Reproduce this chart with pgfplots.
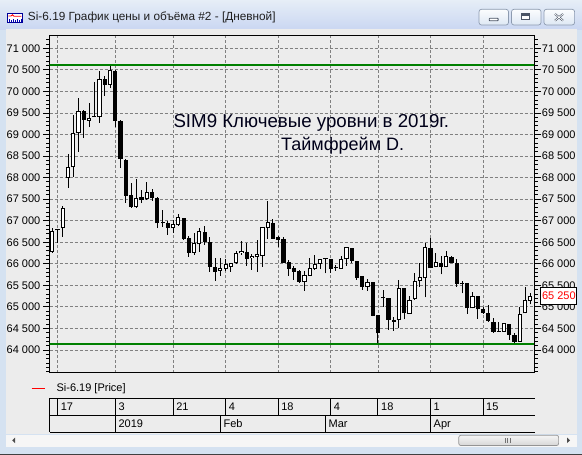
\documentclass[border=0pt]{standalone}
\usepackage{pgfplots}
\pgfplotsset{compat=1.18}
\usepackage{pgfplotstable}
\usepackage{fontspec}
\setmainfont{Liberation Sans}

\definecolor{frame}{HTML}{D5E2F1}
\definecolor{client}{HTML}{ECECEC}
\definecolor{gridgray}{HTML}{808080}
\definecolor{lvlgreen}{HTML}{008000}
\definecolor{btnedge}{HTML}{8D9BB0}
\definecolor{icon}{HTML}{4B5566}

\newcommand{\tfont}{\fontsize{11bp}{13bp}\selectfont}

% daily candles: index, open, high, low, close
\pgfplotstableread{
i O H L C
1 66282 66825 66258 66769
2 66775 66805 66477 66800
3 66825 67342 66630 67289
4 67985 68542 67767 68240
5 68240 69454 68022 69044
6 69030 69842 68603 69554
7 69554 69570 68913 69338
8 69315 69740 69169 69378
9 69420 70227 69400 69400
10 69401 70483 69276 70283
11 70283 70367 69902 70151
12 70151 70599 70074 70499
13 70476 70499 69183 69322
14 69322 69330 68217 68426
15 68410 68425 67419 67581
16 67598 67869 67300 67312
17 67312 67969 67300 67521
18 67544 67714 67405 67482
19 67498 67892 67490 67660
20 67660 67730 67465 67521
21 67535 67550 66825 66940
22 66950 67249 66848 66940
23 66940 67001 66669 66825
24 66825 67017 66723 66918
25 66901 67157 66878 67080
26 67057 67070 66553 66576
27 66593 66646 66166 66258
28 66258 66709 66205 66490
29 66453 66839 66282 66762
30 66732 66878 66437 66500
31 66500 66630 65817 65934
32 65934 66128 65608 65817
33 65841 66128 65718 65896
34 65880 66105 65834 65996
35 65934 66027 65817 66012
36 66012 66298 66000 66258
37 66244 66530 66205 66298
38 66282 66490 65950 66112
39 66128 66228 65857 66182
40 66166 66553 65817 66228
41 66189 66848 65934 66848
42 66839 67458 66583 66971
43 66955 67041 66576 66576
44 66623 66646 66384 66560
45 66569 66630 66026 66026
46 66049 66089 65725 65880
47 65910 65950 65625 65817
48 65841 65857 65562 65585
49 65585 65841 65376 65741
50 65725 66128 65725 65896
51 65880 66205 65857 65989
52 65996 66105 65880 66105
53 66105 66110 65780 66100
54 66105 66105 65794 65880
55 65905 65973 65834 65896
56 65880 66182 65880 66105
57 66105 66398 65950 66384
58 66367 66367 66026 66073
59 66066 66066 65625 65678
60 65718 65718 65393 65469
61 65469 65648 65376 65571
62 65571 65580 64780 64796
63 64812 64812 64155 64387
64 65223 65393 65005 65200
65 65200 65200 64464 64696
66 64696 64759 64448 64657
67 64696 65625 64504 65432
68 65432 65432 64712 64852
69 64836 65253 64836 65161
70 65177 65780 65161 65601
71 65601 66026 65469 65687
72 65664 66490 65223 66384
73 66360 66593 65896 65896
74 65934 66258 65919 66049
75 66012 66182 65757 65934
76 65919 66298 65919 66189
77 66166 66182 66012 66026
78 66012 66105 65469 65532
79 65540 65601 65316 65520
80 65548 65548 64836 64968
81 64968 65353 64968 65253
82 65253 65253 64720 64945
83 64945 65005 64836 64866
84 64866 65044 64657 64680
85 64657 64735 64402 64425
86 64440 64657 64425 64425
87 64425 64630 64420 64620
88 64596 64600 64232 64348
89 64348 64402 64155 64193
90 64193 65005 64193 64829
91 64852 65455 64852 65161
92 65145 65330 65061 65253
}\candles

\pgfplotsset{
  chartbox/.style={
    at={(49.7bp,-372.7bp)}, anchor=south west,
    scale only axis, width=484.8bp, height=336.7bp,
    xmin=0.505, xmax=92.8, ymin=63473, ymax=71285,
    ytick={64000,64500,...,71000}, minor ytick={63500,63600,...,71200},
    tick align=outside, major tick length=6.7bp, minor tick length=3.3bp,
    every tick/.style={black, line width=0.8bp},
    scaled y ticks=false,
    y tick label style={font=\tfont, inner sep=0.5bp},
    /pgf/number format/fixed, /pgf/number format/precision=0,
    /pgf/number format/1000 sep={\ }, /pgf/number format/assume math mode=true,
  },
  candle/.style={draw=none, mark=none, no markers, forget plot,
    error bars/y dir=plus, error bars/y explicit, error bars/error mark=none},
}

\begin{document}
\begin{tikzpicture}
\begin{scope}[x=1bp, y=-1bp]
\useasboundingbox (0,0) rectangle (582,455);
% window chrome
\fill[frame] (0,0) rectangle (582,455);
\shade[top color=white!40!frame, bottom color=frame!95!blue] (0,0) rectangle (582,29.3);
\fill[client] (6,29.3) rectangle (577,434);
% title icon
\fill[white, draw=blue!60!black, line width=0.6bp] (7.6,13.6) rectangle (22.2,22.6);
\draw[red, line width=0.9bp] (8.4,16) -- (11,16) -- (12.5,14.8) -- (14,16.3) -- (21.4,16.3);
\foreach \bx/\bh in {9/2.5,11/1.6,13/3,15/2,17/3.2,19/1.8,21/2.6}
  \fill[blue!70!black] (\bx-0.5,22) rectangle (\bx+0.5,22-\bh);
\node[anchor=base west, inner sep=0, font=\fontsize{11.8bp}{13bp}\selectfont, text=black!88]
  at (27.8,21) {Si-6.19 График цены и объёма \#2 - [Дневной]};
% caption buttons
\foreach \xa/\xb in {479/508.5, 511.5/541, 544/574.6}
  \shade[top color=white!92!frame, bottom color=frame!80!white, draw=btnedge,
         rounded corners=2.5bp, line width=0.7bp] (\xa,9.3) rectangle (\xb,25);
\draw[icon, fill=white, line width=0.8bp, rounded corners=0.6bp] (489.2,18.3) rectangle (498.1,20.8);
\draw[icon, fill=white, line width=0.8bp] (521.8,13.6) rectangle (529.8,19.4);
\draw[icon, line width=1.6bp] (522.3,14.8) -- (529.3,14.8);
\draw[icon, line width=1.9bp] (555,14) -- (563,20.6) (563,14) -- (555,20.6);
\draw[white, line width=0.7bp] (555,14) -- (563,20.6) (563,14) -- (555,20.6);
\end{scope}

% price chart
\begin{axis}[chartbox,
  axis line style={black, line width=1bp},
  xtick={2,13,24,34,44,54,63,73,83}, xticklabels={}, xtick style={draw=none},
  xmajorgrids, ymajorgrids, ytick pos=left,
  y tick label style={xshift=-2bp},
  grid style={gridgray, dash pattern=on 3bp off 2bp, line width=0.8bp},
]
  \addplot[lvlgreen, line width=2bp, forget plot] coordinates {(0,70620) (94,70620)};
  \addplot[lvlgreen, line width=2bp, forget plot] coordinates {(0,64146) (94,64146)};
  % wicks
  \addplot[candle, error bars/error bar style={draw=black, line width=1bp}]
    table[x=i, y=L, y error expr={\thisrow{H}-\thisrow{L}}] {\candles};
  % bodies
  \addplot[candle, error bars/error bar style={draw=black, line width=4.2bp}]
    table[x=i, y expr={min(\thisrow{O},\thisrow{C})},
          y error expr={max(abs(\thisrow{C}-\thisrow{O}),23)}] {\candles};
  % hollow inside of rising candles
  \addplot[candle, error bars/error bar style={draw=white, line width=2.2bp}]
    table[x=i, y expr={min(\thisrow{O},\thisrow{C})+23},
          y error expr={(\thisrow{C}>\thisrow{O}) ? max(\thisrow{C}-\thisrow{O}-46,0) : 0}] {\candles};
\end{axis}
% right scale
\begin{axis}[chartbox, axis x line=none, axis y line*=right,
  axis line style={black, line width=1bp}, yticklabel pos=right]
  \addplot[draw=none, no markers, forget plot] coordinates {(1,65000)};
\end{axis}

\begin{scope}[x=1bp, y=-1bp]
% annotation
\node[anchor=base west, inner sep=0, font=\fontsize{18.7bp}{20bp}\selectfont, text=black!90!blue]
  at (173.3,127.3) {SIM9 Ключевые уровни в 2019г.};
\node[anchor=base west, inner sep=0, font=\fontsize{18bp}{20bp}\selectfont, text=black!90!blue]
  at (281,150.7) {Таймфрейм D.};

% last price tag
\fill[white, draw=black, line width=0.8bp] (540,287.3) rectangle (576.7,304);
\node[anchor=west, inner sep=0, font=\tfont, text=red] at (541.8,295.7) {65 250};

% legend
\draw[red, line width=1bp] (31.5,388.3) -- (45.3,388.3);
\node[anchor=west, inner sep=0, font=\tfont] at (56.4,388.3) {Si-6.19 [Price]};

% date scale
\draw[black, line width=1bp] (49.7,398.3) -- (534.5,398.3) (49.7,415.3) -- (534.5,415.3)
  (49.7,432) -- (534.5,432);
\foreach \sx in {49.7,57.55,115.33,173.11,225.64,278.17,330.69,377.97,430.49,483.02}
  \draw[black, line width=1bp] (\sx,398.3) -- (\sx,415.3);
\foreach \sx in {49.7,115.33,220.39,325.44,430.49}
  \draw[black, line width=1bp] (\sx,415.3) -- (\sx,432);
\foreach \sx/\lab in {57.55/17,115.33/3,173.11/21,225.64/4,278.17/18,330.69/4,377.97/18,430.49/1,483.02/15}
  \node[anchor=base west, inner sep=0, font=\tfont] at (\sx+3,410.7) {\lab};
\foreach \sx/\lab in {115.33/2019,220.39/Feb,325.44/Mar,430.49/Apr}
  \node[anchor=base west, inner sep=0, font=\tfont] at (\sx+3,427.3) {\lab};

% scrollbar
\fill[white!55!client] (6,434.5) rectangle (577,446.5);
\fill[black!70] (12.2,440.3) -- (15,437.6) -- (15,443) -- cycle;
\fill[black!70] (570,440.3) -- (567.2,437.6) -- (567.2,443) -- cycle;
\shade[top color=white!96!black, bottom color=white!84!black, draw=black!42,
       rounded corners=2bp, line width=0.7bp] (458.8,435.3) rectangle (558.6,445.5);
\foreach \gx in {505.5,507.7,509.9}
  \draw[black!55, line width=0.7bp] (\gx,438) -- (\gx,442.8);
\fill[black!75] (0,454) rectangle (582,455);
\end{scope}
\end{tikzpicture}
\end{document}
